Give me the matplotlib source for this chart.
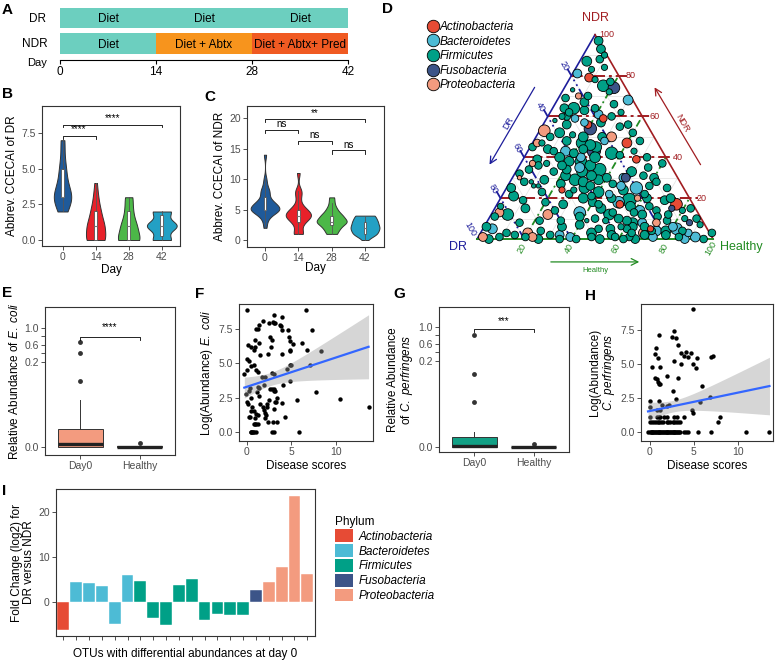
import matplotlib
matplotlib.use("Agg")
import matplotlib.pyplot as plt
import numpy as np
from matplotlib.lines import Line2D
from matplotlib.patches import Patch

plt.rcParams["font.family"] = ["Liberation Sans", "DejaVu Sans"]
plt.rcParams["mathtext.fontset"] = "custom"
plt.rcParams["mathtext.rm"] = "Liberation Sans"
plt.rcParams["mathtext.it"] = "Liberation Sans:italic"

# ---------------------------------------------------------------- data
# A: treatment timeline
timeline_days = [0, 14, 28, 42]
dr_regimen = ["Diet", "Diet", "Diet"]
ndr_regimen = ["Diet", "Diet + Abtx", "Diet + Abtx+ Pred"]
dr_regimen_colors = ["#6ccfbf", "#6ccfbf", "#6ccfbf"]
ndr_regimen_colors = ["#6ccfbf", "#f7941d", "#f05a22"]

# B / C: abbreviated CCECAI scores per day
score_days = ["0", "14", "28", "42"]
day_colors = ["#1f5a9a", "#e8212a", "#4cb848", "#23a0c4"]
dr_ccecai = [
    [2, 2, 2, 3, 3, 3, 3, 3, 3, 3, 3, 3, 4, 4, 4, 5, 5, 5, 6, 7, 7],
    [0, 0, 0, 0, 0, 0, 0, 0, 1, 1, 1, 1, 1, 1, 1, 2, 2, 2, 2, 3, 3, 4],
    [0, 0, 0, 0, 0, 0, 0, 0, 0, 1, 1, 1, 1, 1, 1, 2, 2, 2, 3, 3, 3],
    [0, 0, 0, 0, 0, 0, 1, 1, 1, 1, 1, 1, 1, 1, 1, 1, 2, 2, 2, 2, 2, 2],
]
ndr_ccecai = [
    [2, 3, 4, 4, 4, 5, 5, 5, 5, 5, 5, 5, 5, 5, 5, 6, 6, 6, 6, 6, 6, 7, 7, 8, 8, 8, 9, 10, 14],
    [1, 1, 1, 2, 3, 3, 3, 4, 4, 4, 4, 4, 4, 4, 5, 5, 5, 5, 6, 7, 8, 8, 11],
    [1, 1, 2, 2, 2, 3, 3, 3, 3, 3, 3, 4, 4, 4, 4, 5, 5, 6, 7],
    [0, 1, 1, 1, 1, 1, 1, 2, 2, 2, 2, 2, 2, 2, 3, 3, 3, 3, 3, 3, 4, 4, 4, 4, 4],
]
dr_tests = [(1, 2, 7.3, "****"), (1, 4, 8.1, "****")]
ndr_tests = [(1, 4, 19.8, "**"), (1, 2, 18.0, "ns"), (2, 3, 16.3, "ns"), (3, 4, 14.7, "ns")]

# D: ternary OTU distribution, (NDR %, Healthy %, size); DR = 100 - NDR - Healthy
phyla = ["Actinobacteria", "Bacteroidetes", "Firmicutes", "Fusobacteria", "Proteobacteria"]
phylum_colors = ["#E64B35", "#4DBBD5", "#00A087", "#3C5488", "#F39B7F"]
actino_otus = [(79, 8, 4), (59, 24, 3), (56, 19, 3), (47, 40, 5), (39, 48, 3), (24, 24, 2),
               (17, 52, 3), (17, 76, 7), (5, 71, 2)]
bactero_otus = [(81, 2, 4), (68, 30, 5), (59, 12, 3), (61, 21, 4), (43, 16, 5), (35, 26, 5),
                (25, 55, 8), (18, 51, 7), (22, 45, 3), (13, 37, 7), (5, 4, 5), (2, 34, 4),
                (1, 39, 4), (1, 74, 4), (5, 82, 7), (6, 80, 4), (1, 92, 5), (57, 17, 3),
                (30, 47, 4), (8, 66, 4), (3, 88, 3), (26, 48, 4), (14, 62, 5), (4, 74, 5),
                (0, 88, 4), (40, 24, 4), (48, 30, 3)]
firmi_otus = [(97, 3, 4), (93, 6, 4), (90, 9, 2), (87, 3, 5), (75, 16, 7), (73, 4, 1),
              (64, 5, 4), (64, 9, 7), (60, 8, 3), (63, 14, 4), (64, 18, 3), (60, 27, 3),
              (60, 6, 2), (57, 24, 4), (52, 9, 5), (51, 15, 2), (47, 21, 7), (43, 11, 3),
              (39, 6, 4), (42, 36, 8), (41, 40, 3), (43, 45, 2), (37, 60, 3), (34, 35, 8),
              (34, 21, 4), (33, 16, 3), (37, 11, 2), (29, 27, 7), (28, 31, 5), (29, 37, 5),
              (30, 40, 4), (27, 44, 3), (34, 5, 3), (28, 6, 3), (26, 11, 1), (24, 29, 2),
              (19, 55, 10), (22, 60, 3), (19, 70, 4), (14, 69, 3), (21, 5, 5), (12, 7, 7),
              (15, 13, 4), (9, 31, 3), (6, 1, 4), (3, 11, 3), (2, 15, 3), (2, 30, 3),
              (3, 47, 5), (5, 49, 3), (5, 54, 4), (6, 58, 2), (5, 61, 3), (6, 63, 4),
              (7, 91, 2), (3, 98, 3), (9, 76, 3), (11, 71, 3), (13, 60, 3), (9, 59, 4),
              (13, 51, 3), (9, 50, 2), (9, 42, 1), (17, 43, 3), (21, 38, 3), (26, 60, 3),
              (16, 65, 3), (28, 62, 3), (45, 28, 6), (48, 14, 4), (38, 20, 5), (36, 30, 6),
              (31, 22, 5), (26, 35, 4), (23, 40, 6), (20, 47, 4), (16, 57, 5), (12, 64, 4),
              (10, 45, 3), (7, 40, 4), (4, 25, 3), (14, 26, 3), (18, 20, 3), (2, 56, 4),
              (1, 64, 3), (2, 79, 4), (4, 72, 3), (10, 83, 2), (14, 80, 2), (55, 33, 3),
              (50, 28, 4), (70, 12, 3), (78, 11, 2), (83, 7, 2), (69, 3, 3), (47, 4, 2),
              (45, 1, 3), (32, 2, 3), (25, 2, 4), (16, 2, 2), (11, 2, 3), (8, 14, 3),
              (31, 55, 3), (33, 49, 5), (40, 30, 6), (44, 23, 4), (24, 50, 5), (20, 62, 4),
              (12, 75, 3), (4, 85, 3), (1, 85, 3), (1, 58, 3), (1, 48, 3), (1, 20, 3),
              (1, 9, 3), (0, 96, 3), (28, 9, 1), (26, 13, 1), (58, 4, 1),
              (50, 20, 5), (46, 25, 6), (42, 20, 4), (40, 15, 5), (38, 25, 7), (36, 18, 4),
              (33, 28, 6), (31, 33, 5), (27, 22, 4), (25, 33, 6), (22, 28, 3), (20, 35, 5),
              (18, 40, 4), (15, 45, 5), (12, 50, 6), (10, 55, 4), (8, 62, 5), (6, 68, 4),
              (4, 78, 5), (2, 70, 4), (3, 64, 3), (0, 52, 4), (0, 62, 3), (0, 67, 4),
              (0, 42, 3), (0, 26, 4), (0, 5, 4), (0, 35, 3), (10, 88, 3), (15, 83, 3),
              (20, 72, 4), (25, 68, 3), (30, 60, 4), (35, 55, 3), (40, 52, 3), (48, 45, 3),
              (52, 40, 3), (56, 36, 3), (62, 30, 2), (66, 25, 3), (72, 20, 2), (77, 18, 3),
              (84, 12, 2), (88, 8, 3), (67, 12, 4), (62, 8, 3), (56, 10, 4), (50, 6, 3),
              (44, 8, 4), (36, 8, 3), (29, 14, 4), (23, 16, 3), (19, 10, 3), (17, 28, 4),
              (9, 22, 3), (6, 33, 4), (11, 38, 4)]
fuso_otus = [(74, 21, 7), (54, 21, 8), (43, 28, 9), (30, 48, 4), (15, 75, 2), (8, 86, 2)]
proteo_otus = [(70, 8, 2), (53, 2, 7), (47, 2, 3), (50, 32, 5), (20, 58, 2), (13, 3, 4),
               (12, 24, 5), (1, 2, 4), (3, 20, 5), (1, 23, 4), (3, 69, 5), (8, 72, 3),
               (37, 5, 2), (30, 3, 1)]
tern_ticks = [20, 40, 60, 80, 100]

# E / G: relative abundance box summaries (whislo, q1, median, q3, whishi) and outliers
box_groups = ["Day0", "Healthy"]
ecoli_summary = [[0.0, 0.0, 0.007, 0.042, 0.11], [0.0, 0.0, 0.0005, 0.001, 0.002]]
ecoli_outliers = [[0.155, 0.41, 0.67], [0.01]]
perf_summary = [[0.0, 0.0, 0.002, 0.024, 0.035], [0.0, 0.0, 0.0003, 0.0006, 0.001]]
perf_outliers = [[0.105, 0.17, 0.81], [0.007]]

# F / H: (disease score, log abundance)
ecoli_points = [
    (0.0, 8.9), (0.1, 6.3), (0.5, 6.2), (0.0, 5.3), (0.2, 5.2), (-0.3, 4.2), (0.0, 4.5), (0.4, 4.8),
    (0.8, 4.9), (1.0, 4.5), (-0.1, 2.8), (0.2, 3.0), (0.3, 3.2), (0.0, 2.2), (0.1, 2.0), (0.4, 2.5),
    (0.3, 1.1), (0.6, 1.8), (0.4, 0.0), (0.6, 0.0), (0.8, 0.0), (1.0, 0.0), (0.8, 0.6), (1.0, 0.6),
    (1.2, 0.6), (0.8, 1.5), (1.0, 1.3), (0.9, 1.0), (1.2, 1.2), (0.9, 6.2), (0.8, 6.0), (1.0, 7.5),
    (1.3, 7.8), (1.2, 7.5), (0.9, 6.7), (1.3, 6.5), (1.2, 4.4), (1.3, 3.2), (1.1, 2.9), (1.3, 2.6),
    (1.5, 2.0), (1.8, 8.1), (1.5, 5.6), (1.7, 4.0), (1.9, 3.4), (1.8, 1.8), (1.9, 1.6), (2.0, 1.4),
    (2.2, 1.8), (2.3, 2.0), (2.1, 1.2), (2.4, 0.7), (2.0, 1.0), (2.5, 2.3), (2.4, 5.7), (2.5, 7.9),
    (2.6, 6.9), (2.7, 6.2), (2.8, 6.7), (2.9, 8.0), (3.0, 7.9), (3.1, 8.5), (3.2, 7.9), (2.6, 3.1),
    (2.8, 3.1), (3.0, 3.1), (3.1, 3.0), (3.2, 3.0), (2.8, 4.3), (3.0, 4.2), (3.0, 1.7), (3.2, 2.2),
    (3.3, 2.2), (3.4, 2.5), (2.8, 0.0), (3.1, 0.0), (2.9, 0.7), (3.4, 0.7), (3.8, 7.7), (3.9, 7.4),
    (4.0, 8.4), (3.7, 7.8), (3.9, 5.7), (4.0, 2.1), (4.3, 1.1), (4.1, 3.4), (4.6, 7.4), (4.7, 6.9),
    (4.8, 6.6), (4.8, 5.9), (4.9, 6.0), (4.5, 4.6), (4.8, 3.7), (4.9, 4.9), (5.0, 4.9), (5.9, 0.0),
    (5.6, 2.3), (6.2, 6.5), (6.6, 8.9), (6.8, 6.0), (7.1, 4.9), (7.3, 7.4), (7.8, 2.9), (8.3, 5.9),
    (10.5, 2.4), (13.7, 1.8), (1.2, 3.3), (2.0, 4.0), (0.5, 0.0), (0.7, 0.0), (0.9, 0.6),
    (0.2, 1.1), (0.5, 1.5), (5.2, 6.4),
]
perf_points = [
    (-0.2, 0.0), (0.0, 0.0), (0.2, 0.0), (0.4, 0.0), (0.6, 0.0), (0.8, 0.0), (1.0, 0.0), (1.2, 0.0),
    (1.4, 0.0), (1.6, 0.0), (1.8, 0.0), (2.0, 0.0), (2.2, 0.0), (2.4, 0.0), (2.6, 0.0), (2.8, 0.0),
    (3.0, 0.0), (3.2, 0.0), (3.4, 0.0), (3.9, 0.0), (4.1, 0.0), (4.3, 0.0), (5.5, 0.0), (7.0, 0.0),
    (10.9, 0.0), (13.6, 0.0),
    (0.1, 0.0), (0.3, 0.0), (0.5, 0.0), (0.7, 0.0), (0.9, 0.0), (1.1, 0.0), (1.3, 0.0), (1.5, 0.0),
    (1.7, 0.0), (1.9, 0.0), (2.1, 0.0), (2.3, 0.0), (2.5, 0.0), (2.7, 0.0), (2.9, 0.0), (3.1, 0.0),
    (3.3, 0.0),
    (0.0, 0.7), (0.3, 0.7), (0.5, 0.7), (0.7, 0.7), (0.9, 0.7), (1.1, 0.7), (1.3, 0.7), (1.5, 0.7),
    (1.9, 0.7), (2.1, 0.7), (2.3, 0.7), (2.6, 0.7), (2.8, 0.7), (3.0, 0.7), (3.2, 0.7), (3.4, 0.7),
    (7.7, 0.7),
    (0.0, 1.1), (0.8, 1.1), (1.0, 1.1), (1.2, 1.1), (1.6, 1.1), (2.0, 1.1), (2.8, 1.1), (3.1, 1.1),
    (3.9, 1.1), (8.0, 1.1),
    (0.8, 1.6), (1.2, 1.6), (4.8, 1.6), (4.9, 1.4), (0.0, 1.8), (0.0, 2.3), (1.1, 2.3), (3.0, 2.4),
    (2.2, 2.0), (2.0, 1.9), (1.4, 2.0), (5.7, 2.2), (6.8, 2.6), (0.3, 4.8), (1.2, 4.8), (1.0, 3.5),
    (0.9, 3.7), (0.8, 3.9), (0.6, 4.0), (0.6, 5.7), (0.7, 6.2), (0.9, 5.4), (1.1, 7.1), (1.2, 3.5),
    (1.9, 4.1), (2.5, 7.0), (2.7, 7.4), (3.0, 6.9), (3.2, 6.4), (2.8, 5.2), (3.2, 4.0), (3.5, 5.8),
    (3.6, 5.0), (3.9, 5.6), (4.1, 5.9), (4.3, 5.5), (4.7, 5.8), (4.9, 5.0), (5.2, 4.7), (5.4, 5.4),
    (4.9, 9.0), (5.9, 3.4), (7.0, 5.5), (7.2, 5.6), (2.6, 3.0),
]

# I: differential OTUs at day 0
otu_phylum = (["Actinobacteria"] + ["Bacteroidetes"] * 5 + ["Firmicutes"] * 9
              + ["Fusobacteria"] + ["Proteobacteria"] * 4)
otu_log2fc = [-6.2, 4.5, 4.2, 3.6, -4.9, 5.9, 4.7, -3.5, -5.1, 3.7, 5.1, -4.1, -2.7, -2.9, -3.0,
              2.6, 4.4, 7.8, 23.6, 6.2]

# ---------------------------------------------------------------- helpers
W, H = 778, 660
fig = plt.figure(figsize=(W / 100, H / 100), dpi=100)
TICK_TXT = "#4D4D4D"
EDGE = "#333333"


def px_axes(left, top, right, bottom):
    return fig.add_axes([left / W, 1 - bottom / H, (right - left) / W, (bottom - top) / H])


def px_text(x, y, s, **kw):
    fig.text(x / W, 1 - y / H, s, **kw)


def panel_letter(x, y, s):
    px_text(x, y, s, ha="left", va="top", fontsize=11, fontweight="bold")


def style_box(ax):
    for spine in ax.spines.values():
        spine.set_color(EDGE)
        spine.set_linewidth(0.8)
    ax.tick_params(colors=EDGE, labelcolor=TICK_TXT, labelsize=7.5, length=3, width=0.6, pad=1.5)


def nrd0(values):
    sd = np.std(values, ddof=1)
    iqr = np.subtract(*np.percentile(values, [75, 25]))
    lo = min(sd, iqr / 1.34) if iqr > 0 else sd
    return 0.9 * lo * len(values) ** -0.2


def violin_panel(ax, groups):
    curves = []
    for vals in groups:
        v = np.asarray(vals, float)
        bw = nrd0(v)
        grid = np.linspace(v.min(), v.max(), 400)
        dens = np.exp(-0.5 * ((grid[:, None] - v[None, :]) / bw) ** 2).sum(axis=1)
        dens /= len(v) * bw * np.sqrt(2 * np.pi)
        curves.append((grid, dens))
    dmax = max(d.max() for _, d in curves)
    for i, ((grid, dens), color) in enumerate(zip(curves, day_colors), start=1):
        half = 0.45 * dens / dmax
        ax.fill_betweenx(grid, i - half, i + half, facecolor=color, edgecolor=EDGE, lw=0.7, zorder=2)
    ax.boxplot(groups, positions=range(1, len(groups) + 1), widths=0.08, patch_artist=True,
               showfliers=False, showcaps=False, manage_ticks=False,
               boxprops=dict(facecolor="white", edgecolor="#555555", lw=0.6),
               whiskerprops=dict(color="#555555", lw=0.6),
               medianprops=dict(color="#777777", lw=0.8), zorder=3)
    ax.set_xticks(range(1, len(groups) + 1))
    ax.set_xticklabels(score_days)


def bracket(ax, x1, x2, y, drop, label, gap):
    ax.plot([x1, x1, x2, x2], [y - drop, y, y, y - drop], color="black", lw=0.6)
    ax.text((x1 + x2) / 2, y + gap, label, ha="center", va="bottom", fontsize=7)


def brk_fwd(v):
    v = np.asarray(v, float)
    return np.where(v <= 0.2, v, 0.2 + (v - 0.2) / 10)


def brk_inv(u):
    u = np.asarray(u, float)
    return np.where(u <= 0.2, u, 0.2 + (u - 0.2) * 10)


def box_panel(ax, summary, outliers, fill, ylim):
    ax.set_yscale("function", functions=(brk_fwd, brk_inv))
    stats = [dict(whislo=s[0], q1=s[1], med=s[2], q3=s[3], whishi=s[4], fliers=f)
             for s, f in zip(summary, outliers)]
    ax.bxp(stats, positions=[1, 2], widths=0.75, patch_artist=True, showcaps=False,
           boxprops=dict(facecolor=fill, edgecolor=EDGE, lw=0.7),
           whiskerprops=dict(color=EDGE, lw=0.7),
           medianprops=dict(color="#222222", lw=2.4),
           flierprops=dict(marker="o", markersize=3.5, markerfacecolor=EDGE, markeredgecolor="none"))
    ax.set_xlim(0.4, 2.6)
    ax.set_ylim(*ylim)
    ax.set_yticks([0.0, 0.2, 0.4, 0.6, 0.8, 1.0])
    ax.set_yticklabels(["0.0", "0.2", "", "0.6", "", "1.0"])
    ax.set_xticks([1, 2])
    ax.set_xticklabels(box_groups)
    ax.minorticks_off()
    style_box(ax)


def scatter_fit(ax, points):
    pts = np.asarray(points, float)
    x, y = pts[:, 0], pts[:, 1]
    ax.scatter(x, y, s=10, color="black", lw=0, zorder=2)
    slope, icpt = np.polyfit(x, y, 1)
    xs = np.linspace(x.min(), x.max(), 100)
    fit = icpt + slope * xs
    resid = y - (icpt + slope * x)
    s = np.sqrt((resid ** 2).sum() / (len(x) - 2))
    se = s * np.sqrt(1 / len(x) + (xs - x.mean()) ** 2 / ((x - x.mean()) ** 2).sum())
    ax.fill_between(xs, fit - 1.98 * se, fit + 1.98 * se, color="#999999", alpha=0.4, lw=0, zorder=3)
    ax.plot(xs, fit, color="#3366FF", lw=1.6, zorder=4)
    ax.set_xticks([0, 5, 10])
    ax.set_yticks([0, 2.5, 5, 7.5])
    ax.set_yticklabels(["0.0", "2.5", "5.0", "7.5"])
    ax.set_xlabel("Disease scores", fontsize=8.5, labelpad=2)
    style_box(ax)


# ---------------------------------------------------------------- A
ax_a = px_axes(60, 6, 348, 60)
for row, labels, colors in [(0, ndr_regimen, ndr_regimen_colors), (1, dr_regimen, dr_regimen_colors)]:
    for j, (lab, col) in enumerate(zip(labels, colors)):
        start, stop = timeline_days[j], timeline_days[j + 1]
        ax_a.barh(row, stop - start, left=start, height=0.8, color=col, edgecolor="none")
        ax_a.text((start + stop) / 2, row - 0.06, lab, ha="center", va="center", fontsize=8.5)
ax_a.set_xlim(0, 42)
ax_a.set_ylim(-0.65, 1.47)
ax_a.set_xticks(timeline_days)
ax_a.set_yticks([])
for side in ["top", "left", "right"]:
    ax_a.spines[side].set_visible(False)
ax_a.spines["bottom"].set_linewidth(0.8)
ax_a.tick_params(axis="x", length=3, width=0.8, labelsize=8.5, pad=1)
px_text(38, 19, "DR", ha="center", va="center", fontsize=8.5)
px_text(35, 44, "NDR", ha="center", va="center", fontsize=8.5)
px_text(37, 63, "Day", ha="center", va="center", fontsize=8)
panel_letter(2, 3, "A")

# ---------------------------------------------------------------- B
ax_b = px_axes(42, 106, 180, 246)
violin_panel(ax_b, dr_ccecai)
for x1, x2, y, lab in dr_tests:
    bracket(ax_b, x1, x2, y, 0.2, lab, 0.1)
ax_b.set_xlim(0.38, 4.55)
ax_b.set_ylim(-0.42, 9.4)
ax_b.set_yticks([0, 2.5, 5, 7.5])
ax_b.set_yticklabels(["0.0", "2.5", "5.0", "7.5"])
ax_b.set_xlabel("Day", fontsize=8.5, labelpad=1)
ax_b.set_ylabel("Abbrev. CCECAI of DR", fontsize=8.5, labelpad=2)
style_box(ax_b)
panel_letter(2, 87, "B")

# ---------------------------------------------------------------- C
ax_c = px_axes(247, 106, 384, 247)
violin_panel(ax_c, ndr_ccecai)
for x1, x2, y, lab in ndr_tests:
    bracket(ax_c, x1, x2, y, 0.5, lab, 0.15)
ax_c.set_xlim(0.46, 4.57)
ax_c.set_ylim(-1.15, 22.0)
ax_c.set_yticks([0, 5, 10, 15, 20])
ax_c.set_xlabel("Day", fontsize=8.5, labelpad=-1)
ax_c.set_ylabel("Abbrev. CCECAI of NDR", fontsize=8.5, labelpad=2)
style_box(ax_c)
panel_letter(204, 90, "C")

# ---------------------------------------------------------------- D
NDR_C, DR_C, HEALTHY_C = "#A11D21", "#1D1D9B", "#228B22"
SQ = np.sqrt(3) / 2
ax_d = px_axes(380, 0, 778, 290)
ax_d.set_xlim(-0.411, 1.275)
ax_d.set_ylim(-0.216, 1.013)
ax_d.axis("off")


def tern(ndr, healthy):
    ndr = np.asarray(ndr, float) / 100
    healthy = np.asarray(healthy, float) / 100
    return healthy + ndr * 0.5, ndr * SQ


for k in range(10, 100, 10):
    for (n1, h1), (n2, h2) in [((k, 0), (k, 100 - k)), ((100 - k, 0), (0, 100 - k)), ((0, k), (100 - k, k))]:
        gx, gy = tern([n1, n2], [h1, h2])
        ax_d.plot(gx, gy, color="#e2e2e2", lw=0.5, zorder=1)

for k in tern_ticks[:-1]:
    gx, gy = tern([k, k], [0, 100 - k])
    ax_d.plot([gx[0], gx[1] + 0.035], gy, color=NDR_C, lw=1.4, ls=(0, (6, 2, 1.5, 2)), zorder=2)
    gx, gy = tern([0, 100 - k], [100 - k, 0])
    ax_d.plot([gx[0], gx[1] - 0.018], [gy[0], gy[1] + 0.03], color=DR_C, lw=1.3,
              ls=(0, (5, 2, 1, 2, 1, 2)), zorder=2)
    gx, gy = tern([0, 100 - k], [k, k])
    ax_d.plot(gx, gy, color=HEALTHY_C, lw=1.3, ls=(0, (4, 2, 1, 2)), zorder=2)

corners_x, corners_y = tern([0, 0, 100], [0, 100, 0])
ax_d.plot([corners_x[0], corners_x[2]], [corners_y[0], corners_y[2]], color=DR_C, lw=1.2, zorder=2)
ax_d.plot([corners_x[2], corners_x[1]], [corners_y[2], corners_y[1]], color=NDR_C, lw=1.2, zorder=2)
ax_d.plot([corners_x[0], corners_x[1]], [corners_y[0], corners_y[1]], color=HEALTHY_C, lw=1.4, zorder=2)

for k in tern_ticks:
    tx, ty = tern(k, 100 - k)
    ax_d.text(tx + 0.05, ty, str(k), color=NDR_C, fontsize=6.5, ha="center", va="center")
    tx, ty = tern(100 - k, 0)
    ax_d.text(tx - 0.03, ty + 0.04, str(k), color=DR_C, fontsize=6.5, ha="center", va="center", rotation=-60)
    tx, ty = tern(0, k)
    ax_d.text(tx - 0.01, ty - 0.04, str(k), color=HEALTHY_C, fontsize=6.5, ha="center", va="center", rotation=60)

otu_sets = [actino_otus, bactero_otus, firmi_otus, fuso_otus, proteo_otus]
all_otus = [(n, h, s, c) for otus, c in zip(otu_sets, phylum_colors) for n, h, s in otus]
all_otus.sort(key=lambda t: -t[2])
ox, oy = tern([t[0] for t in all_otus], [t[1] for t in all_otus])
ax_d.scatter(ox, oy, s=[10 * t[2] for t in all_otus], c=[t[3] for t in all_otus],
             edgecolors="black", linewidths=0.6, zorder=3)

ax_d.text(0.5, 0.935, "NDR", color=NDR_C, fontsize=9, ha="center", va="center")
ax_d.text(-0.08, -0.034, "DR", color=DR_C, fontsize=9, ha="center", va="center")
ax_d.text(1.12, -0.034, "Healthy", color=HEALTHY_C, fontsize=9, ha="center", va="center")
ax_d.annotate("", xy=(0.047, 0.305), xytext=(0.25, 0.653),
              arrowprops=dict(arrowstyle="->", color=DR_C, lw=0.9, mutation_scale=12))
ax_d.text(0.131, 0.492, "DR", color=DR_C, fontsize=6.5, ha="center", va="center", rotation=60)
ax_d.annotate("", xy=(0.746, 0.653), xytext=(0.953, 0.305),
              arrowprops=dict(arrowstyle="->", color=NDR_C, lw=0.9, mutation_scale=12))
ax_d.text(0.869, 0.492, "NDR", color=NDR_C, fontsize=6.5, ha="center", va="center", rotation=-60)
ax_d.annotate("", xy=(0.699, -0.097), xytext=(0.301, -0.097),
              arrowprops=dict(arrowstyle="->", color=HEALTHY_C, lw=0.9, mutation_scale=12))
ax_d.text(0.5, -0.133, "Healthy", color=HEALTHY_C, fontsize=5.5, ha="center", va="center")

d_handles = [Line2D([], [], marker="o", ls="none", markerfacecolor=c, markeredgecolor="black",
                    markeredgewidth=0.6, markersize=9) for c in phylum_colors]
ax_d.legend(d_handles, phyla, loc="upper left", bbox_to_anchor=((427 - 380) / 398, 1 - 21 / 290),
            frameon=False, prop=dict(style="italic", size=8.5), handletextpad=0.1,
            labelspacing=0.22, borderpad=0, borderaxespad=0, handlelength=1.0)
panel_letter(382, 2, "D")

# ---------------------------------------------------------------- E
ax_e = px_axes(45, 307, 175, 455)
box_panel(ax_e, ecoli_summary, ecoli_outliers, "#F39B7F", (-0.019, 1.49))
ax_e.plot([1, 1, 2, 2], [0.72, 0.79, 0.79, 0.72], color="black", lw=0.6)
ax_e.text(1.5, 0.9, "****", ha="center", va="bottom", fontsize=7)
ax_e.set_ylabel(r"Relative Abundance of $\it{E.\ coli}$", fontsize=8.5, labelpad=2)
panel_letter(2, 286, "E")

# ---------------------------------------------------------------- F
ax_f = px_axes(239, 304, 373, 441)
scatter_fit(ax_f, ecoli_points)
ax_f.set_xlim(-0.9, 14.2)
ax_f.set_ylim(-0.66, 9.32)
ax_f.set_ylabel(r"Log(Abundance) $\it{E.\ coli}$", fontsize=8.5, labelpad=2)
panel_letter(195, 287, "F")

# ---------------------------------------------------------------- G
ax_g = px_axes(439, 307, 569, 452)
box_panel(ax_g, perf_summary, perf_outliers, "#12A085", (-0.0116, 1.456))
ax_g.plot([1, 1, 2, 2], [0.87, 0.94, 0.94, 0.87], color="black", lw=0.6)
ax_g.text(1.5, 1.02, "***", ha="center", va="bottom", fontsize=7)
ax_g.set_ylabel("Relative Abundance\n" + r"of $\it{C.\ perfringens}$", fontsize=8.5,
                labelpad=2, linespacing=1.0)
panel_letter(393, 287, "G")

# ---------------------------------------------------------------- H
ax_h = px_axes(641, 304, 773, 441)
scatter_fit(ax_h, perf_points)
ax_h.set_xlim(-1.0, 14.0)
ax_h.set_ylim(-0.66, 9.4)
ax_h.set_ylabel("Log(Abundance)\n" + r"$\it{C.\ perfringens}$", fontsize=8.5, labelpad=2,
                linespacing=1.0)
panel_letter(585, 289, "H")

# ---------------------------------------------------------------- I
ax_i = px_axes(56, 489, 315, 636)
color_of = dict(zip(phyla, phylum_colors))
bar_x = np.arange(1, len(otu_log2fc) + 1)
ax_i.bar(bar_x, otu_log2fc, width=0.92, color=[color_of[p] for p in otu_phylum],
         edgecolor="white", linewidth=0.3)
ax_i.set_xlim(0.43, 20.6)
ax_i.set_ylim(-7.6, 25.1)
ax_i.set_xticks(bar_x)
ax_i.set_xticklabels([])
ax_i.set_yticks([0, 10, 20])
ax_i.set_xlabel("OTUs with differential abundances at day 0", fontsize=8.5, labelpad=4)
ax_i.set_ylabel("Fold Change (log2) for\nDR versus NDR", fontsize=8.5, labelpad=2, linespacing=1.0)
style_box(ax_i)
i_handles = [Patch(facecolor=c, edgecolor="none") for c in phylum_colors]
ax_i.legend(i_handles, phyla, title="Phylum", loc="upper left",
            bbox_to_anchor=(329 / W, 1 - 510 / H), bbox_transform=fig.transFigure,
            frameon=False, prop=dict(style="italic", size=8.5), title_fontsize=8.5,
            handlelength=1.5, handleheight=1.3, labelspacing=0.12, handletextpad=0.5,
            alignment="left", borderpad=0)
panel_letter(2, 484, "I")

fig.savefig("out.png", dpi=100)
